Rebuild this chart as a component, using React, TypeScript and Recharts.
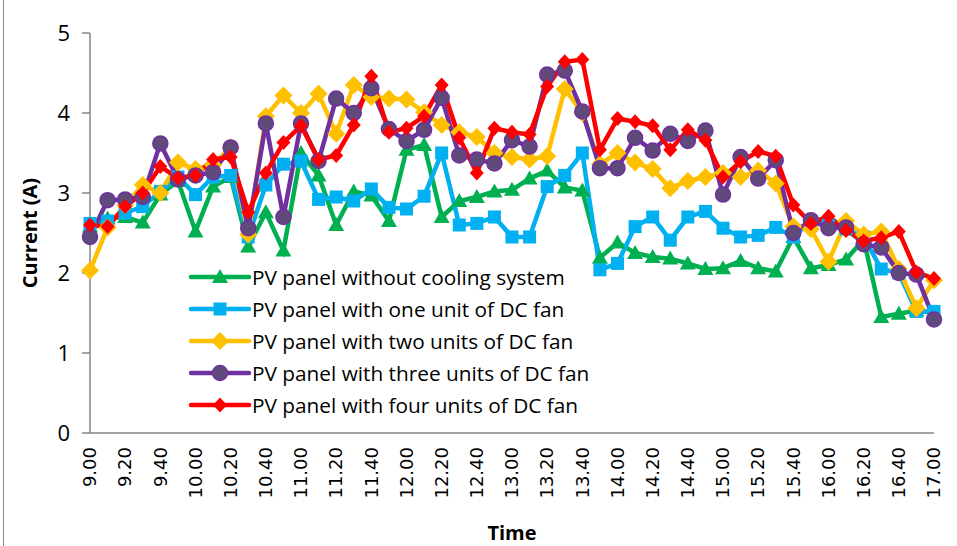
import React from "react";
import { LineChart, Line, XAxis, YAxis } from "recharts";

// time of day, every 10 minutes
const times = [
  "9.00", "9.10", "9.20", "9.30", "9.40", "9.50",
  "10.00", "10.10", "10.20", "10.30", "10.40", "10.50",
  "11.00", "11.10", "11.20", "11.30", "11.40", "11.50",
  "12.00", "12.10", "12.20", "12.30", "12.40", "12.50",
  "13.00", "13.10", "13.20", "13.30", "13.40", "13.50",
  "14.00", "14.10", "14.20", "14.30", "14.40", "14.50",
  "15.00", "15.10", "15.20", "15.30", "15.40", "15.50",
  "16.00", "16.10", "16.20", "16.30", "16.40", "16.50",
  "17.00",
];

const noCooling = [
  2.58, 2.68, 2.7, 2.63, 2.98, 3.15, 2.52, 3.08, 3.2, 2.33, 2.76, 2.28,
  3.5, 3.22, 2.6, 3.02, 2.97, 2.65, 3.54, 3.6, 2.7, 2.9, 2.95, 3.02,
  3.04, 3.18, 3.28, 3.07, 3.03, 2.19, 2.38, 2.25, 2.2, 2.18, 2.12, 2.05,
  2.06, 2.15, 2.06, 2.02, 2.45, 2.06, 2.1, 2.17, 2.42, 1.45, 1.49, 1.53,
  1.5,
];

const oneFan = [
  2.62, 2.65, 2.75, 2.83, 3.02, 3.2, 2.98, 3.2, 3.22, 2.45, 3.1, 3.36,
  3.4, 2.92, 2.95, 2.9, 3.05, 2.82, 2.8, 2.96, 3.5, 2.6, 2.62, 2.7,
  2.45, 2.45, 3.08, 3.22, 3.5, 2.04, 2.12, 2.58, 2.7, 2.41, 2.7, 2.77,
  2.56, 2.45, 2.47, 2.57, 2.45, 2.65, 2.6, 2.55, 2.45, 2.05, 2.0, 1.52,
  1.52,
];

const twoFans = [
  2.03, 2.57, 2.85, 3.1, 3.0, 3.38, 3.3, 3.35, 3.57, 2.48, 3.96, 4.22,
  4.0, 4.24, 3.74, 4.35, 4.2, 4.18, 4.17, 4.01, 3.85, 3.76, 3.7, 3.5,
  3.45, 3.42, 3.46, 4.3, 4.0, 3.36, 3.5, 3.38, 3.3, 3.06, 3.15, 3.2,
  3.25, 3.2, 3.28, 3.12, 2.58, 2.55, 2.14, 2.65, 2.48, 2.52, 2.05, 1.56,
  1.91,
];

const threeFans = [
  2.45, 2.91, 2.92, 2.95, 3.62, 3.17, 3.22, 3.26, 3.57, 2.56, 3.87, 2.7,
  3.87, 3.4, 4.18, 4.0, 4.31, 3.8, 3.65, 3.79, 4.19, 3.47, 3.42, 3.37,
  3.66, 3.58, 4.48, 4.53, 4.02, 3.31, 3.31, 3.69, 3.53, 3.74, 3.65, 3.78,
  2.98, 3.45, 3.18, 3.41, 2.5, 2.66, 2.56, 2.57, 2.36, 2.32, 2.0, 1.98,
  1.42,
];

const fourFans = [
  2.6, 2.58, 2.83, 3.0, 3.33, 3.19, 3.22, 3.42, 3.45, 2.76, 3.25, 3.63,
  3.84, 3.42, 3.47, 3.85, 4.46, 3.76, 3.81, 3.96, 4.35, 3.69, 3.25, 3.81,
  3.76, 3.73, 4.33, 4.64, 4.67, 3.54, 3.93, 3.89, 3.84, 3.54, 3.79, 3.66,
  3.2, 3.39, 3.52, 3.46, 2.85, 2.62, 2.71, 2.53, 2.4, 2.44, 2.52, 2.01,
  1.93,
];

const yTicks = [0, 1, 2, 3, 4, 5];

const data = times.map((t, i) => ({
  time: t,
  noCooling: noCooling[i],
  oneFan: oneFan[i],
  twoFans: twoFans[i],
  threeFans: threeFans[i],
  fourFans: fourFans[i],
}));

const FONT = "'Open Sans', 'Noto Sans', sans-serif";
const AXIS = "#868686";

// marker shapes, shared by the series and the legend
const drawMarker = (shape: string, cx: number, cy: number, fill: string, stroke: string) => {
  switch (shape) {
    case "triangle":
      return <polygon points={`${cx},${cy - 8} ${cx + 8},${cy + 6} ${cx - 8},${cy + 6}`} fill={fill} />;
    case "square":
      return <rect x={cx - 6.5} y={cy - 6.5} width={13} height={13} fill={fill} />;
    case "diamond":
      return <polygon points={`${cx},${cy - 9} ${cx + 9},${cy} ${cx},${cy + 9} ${cx - 9},${cy}`} fill={fill} />;
    case "smallDiamond":
      return <polygon points={`${cx},${cy - 7.5} ${cx + 7},${cy} ${cx},${cy + 7.5} ${cx - 7},${cy}`} fill={fill} />;
    case "circle":
      return <circle cx={cx} cy={cy} r={7.5} fill={fill} stroke={stroke} strokeWidth={1.5} />;
    default:
      return null;
  }
};

const series = [
  { key: "noCooling", name: "PV panel without cooling system", color: "#00B050", fill: "#00B050", shape: "triangle" },
  { key: "oneFan", name: "PV panel with one unit of DC fan", color: "#00B0F0", fill: "#00B0F0", shape: "square" },
  { key: "twoFans", name: "PV panel with two units of DC fan", color: "#FFC000", fill: "#FFC000", shape: "diamond" },
  { key: "threeFans", name: "PV panel with three units of DC fan", color: "#7030A0", fill: "#604A7B", shape: "circle" },
  { key: "fourFans", name: "PV panel with four units of DC fan", color: "#FF0000", fill: "#FF0000", shape: "smallDiamond" },
];

const TimeTick = (props: any) => {
  const { x, y, payload } = props;
  return (
    <text
      x={0}
      y={0}
      dy="0.35em"
      textAnchor="end"
      transform={`translate(${x},${y + 6}) rotate(-90)`}
      fontSize={18}
      fontFamily="'DejaVu Sans', sans-serif"
      fill="#000"
    >
      {payload.value}
    </text>
  );
};

// legend sits inside the plot, like the original
const LegendBox = () => (
  <div style={{ position: "absolute", left: 188, top: 261, fontFamily: FONT, fontSize: 20.8, color: "#000" }}>
    {series.map((s) => (
      <div key={s.key} style={{ display: "flex", alignItems: "center", height: 32 }}>
        <svg width={64} height={24}>
          <line x1={3} y1={12} x2={61} y2={12} stroke={s.color} strokeWidth={4.5} strokeLinecap="round" />
          {drawMarker(s.shape, 32, 12, s.fill, s.color)}
        </svg>
        <span style={{ whiteSpace: "nowrap" }}>{s.name}</span>
      </div>
    ))}
  </div>
);

export default function App() {
  return (
    <div style={{ position: "absolute", left: 0, top: 0, width: 957, height: 546, background: "#fff" }}>
      <div style={{ position: "absolute", left: 3, top: 0, width: 1, height: 546, background: AXIS }} />
      <LineChart
        width={957}
        height={546}
        data={data}
        margin={{ top: 33, right: 23, bottom: 0, left: 0 }}
      >
        <XAxis
          dataKey="time"
          interval={1}
          height={113}
          tick={<TimeTick />}
          tickLine={false}
          axisLine={{ stroke: AXIS, strokeWidth: 1.5 }}
          label={{ value: "Time", position: "insideBottom", offset: 6, fontSize: 20, fontWeight: "bold", fill: "#000", fontFamily: FONT }}
        />
        <YAxis
          domain={[0, 5]}
          ticks={yTicks}
          width={90}
          tickSize={8}
          tickMargin={12}
          tickLine={{ stroke: AXIS, strokeWidth: 1.5 }}
          axisLine={{ stroke: AXIS, strokeWidth: 1.5 }}
          tick={{ fontSize: 22, fill: "#000", fontFamily: FONT }}
          label={{ value: "Current (A)", angle: -90, position: "insideLeft", offset: 30, fontSize: 20, fontWeight: "bold", fill: "#000", fontFamily: FONT, style: { textAnchor: "middle" } }}
        />
        {series.map((s) => (
          <Line
            key={s.key}
            dataKey={s.key}
            name={s.name}
            type="linear"
            stroke={s.color}
            strokeWidth={4.5}
            isAnimationActive={false}
            dot={(p: any) => <g key={`${s.key}-${p.index}`}>{drawMarker(s.shape, p.cx, p.cy, s.fill, s.color)}</g>}
            activeDot={false}
          />
        ))}
      </LineChart>
      <LegendBox />
    </div>
  );
}
